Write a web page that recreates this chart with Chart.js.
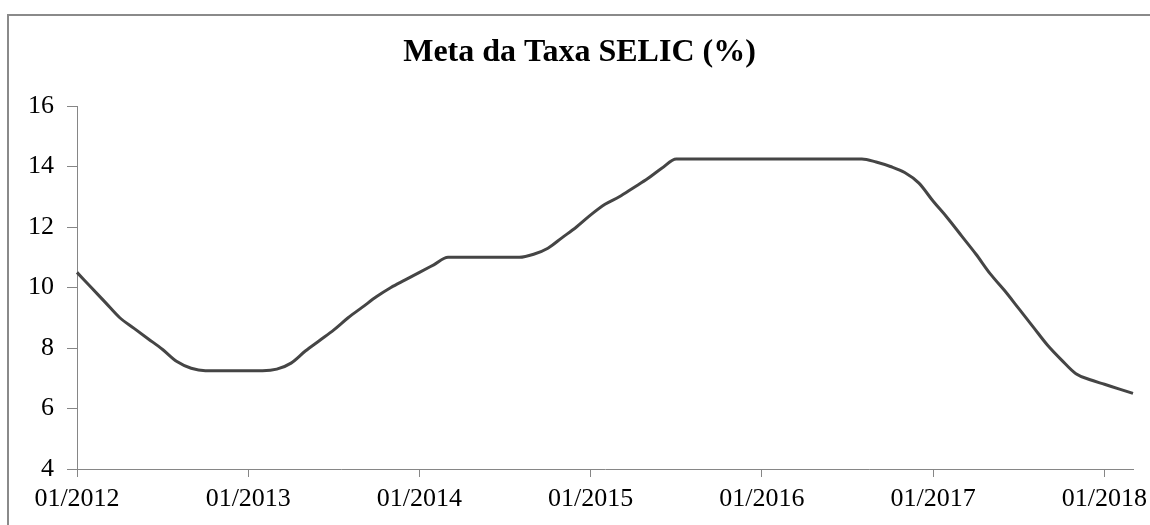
<!DOCTYPE html>
<html>
<head>
<meta charset="utf-8">
<script src="https://cdn.jsdelivr.net/npm/chart.js@4"></script>
<style>
  html, body { margin: 0; padding: 0; background: #fff; }
  #wrap { position: relative; width: 1150px; height: 525px; }
</style>
</head>
<body>
<div id="wrap"><canvas id="selic"></canvas></div>
<script>
// monthly series, 01/2012 .. 03/2018
var years = [2012, 2013, 2014, 2015, 2016, 2017, 2018];
var selic = [
  10.5, 10.0, 9.5, 9.0, 8.65, 8.3, 7.95, 7.55, 7.33, 7.25,
  7.25, 7.25, 7.25, 7.25, 7.3, 7.5, 7.9, 8.25, 8.6, 9.0,
  9.35, 9.7, 10.0, 10.25, 10.5, 10.75, 11.0, 11.0, 11.0, 11.0,
  11.0, 11.0, 11.1, 11.3, 11.65, 12.0, 12.4, 12.75, 13.0, 13.3,
  13.6, 13.95, 14.25, 14.25, 14.25, 14.25, 14.25, 14.25, 14.25, 14.25,
  14.25, 14.25, 14.25, 14.25, 14.25, 14.25, 14.15, 14.0, 13.8, 13.45,
  12.85, 12.3, 11.7, 11.1, 10.45, 9.9, 9.3, 8.7, 8.1, 7.6,
  7.15, 6.95, 6.8, 6.65, 6.5
];
var yTicks = [4, 6, 8, 10, 12, 14, 16];

var months = [];
years.forEach(function (y) {
  for (var m = 1; m <= 12; m++) {
    if (months.length < selic.length) {
      months.push((m < 10 ? '0' + m : '' + m) + '/' + y);
    }
  }
});

var serif = "'Liberation Serif', 'Times New Roman', serif";
var axisGray = '#868686';

// gray frame round the chart (top and left edges only, as in the picture)
var framePlugin = {
  id: 'frame',
  beforeDraw: function (chart) {
    var ctx = chart.ctx;
    ctx.save();
    ctx.fillStyle = '#fff';
    ctx.fillRect(0, 0, chart.width, chart.height);
    ctx.strokeStyle = '#8a8a8a';
    ctx.lineWidth = 2;
    ctx.beginPath();
    ctx.moveTo(8, chart.height);
    ctx.lineTo(8, 15);
    ctx.lineTo(chart.width, 15);
    ctx.stroke();
    ctx.restore();
  }
};

new Chart(document.getElementById('selic'), {
  type: 'line',
  data: {
    labels: months,
    datasets: [{
      label: 'Meta da Taxa SELIC (%)',
      data: selic,
      borderColor: '#454545',
      borderWidth: 3,
      pointRadius: 0,
      cubicInterpolationMode: 'monotone',
      fill: false
    }]
  },
  options: {
    responsive: true,
    maintainAspectRatio: false,
    animation: false,
    layout: { padding: { left: 26, right: 17, top: 0, bottom: 0 } },
    plugins: {
      legend: { display: false },
      tooltip: { enabled: false },
      title: {
        display: true,
        text: 'Meta da Taxa SELIC (%)',
        color: '#000',
        font: { family: serif, size: 32, weight: 'bold', lineHeight: 1.2 },
        padding: { top: 34, bottom: 33.6 }
      }
    },
    scales: {
      x: {
        type: 'category',
        offset: false,
        afterFit: function (scale) {
          scale.height = 56;
          // let the last label hang past the plot edge as in the original
          scale.paddingLeft = 0;
          scale.paddingRight = 0;
        },
        border: { display: true, color: axisGray, width: 1 },
        grid: { drawOnChartArea: false, drawTicks: true, tickLength: 8, color: axisGray },
        ticks: {
          autoSkip: false,
          maxRotation: 0,
          padding: 7,
          color: '#000',
          font: { family: serif, size: 26 },
          callback: function (val, idx) {
            var lab = months[idx];
            return lab.indexOf('01/') === 0 ? lab : null;
          }
        }
      },
      y: {
        min: 4,
        max: 16,
        afterFit: function (scale) { scale.width = 51; },
        afterBuildTicks: function (scale) {
          scale.ticks = yTicks.map(function (v) { return { value: v }; });
        },
        border: { display: true, color: axisGray, width: 1 },
        grid: { drawOnChartArea: false, drawTicks: true, tickLength: 10, color: axisGray },
        ticks: {
          padding: 13,
          color: '#000',
          font: { family: serif, size: 26 }
        }
      }
    }
  },
  plugins: [framePlugin]
});
</script>
</body>
</html>
